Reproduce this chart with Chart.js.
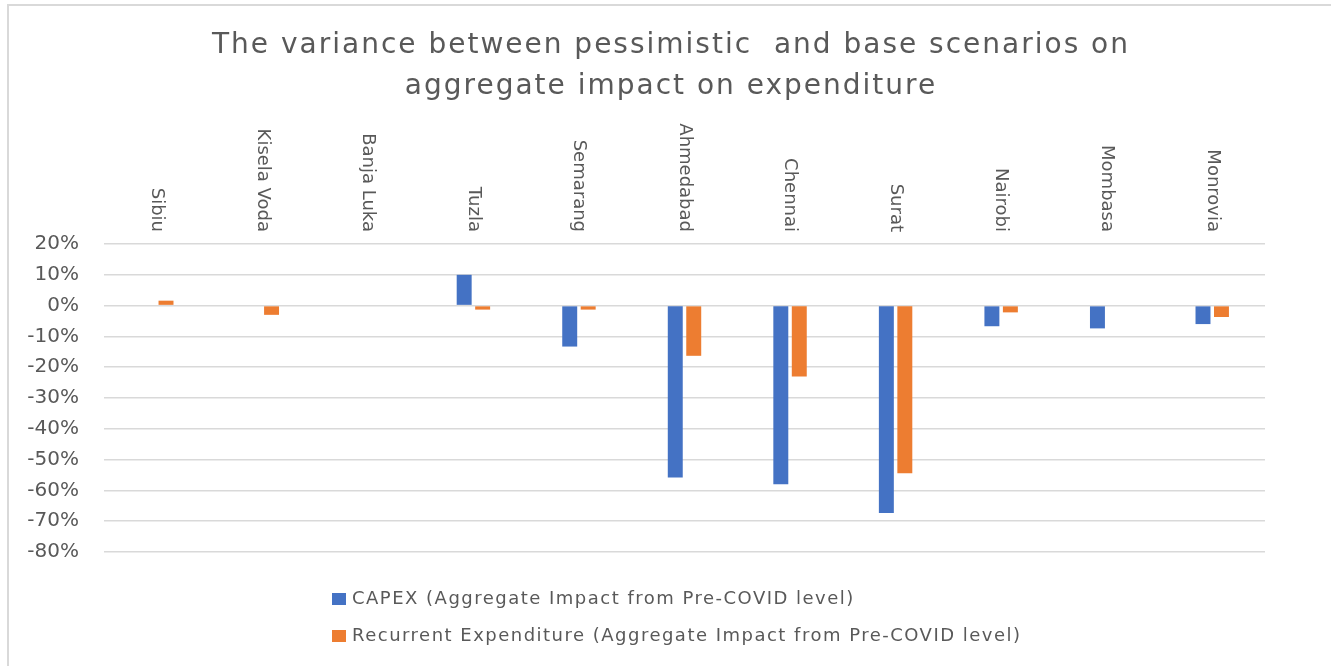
<!DOCTYPE html>
<html>
<head>
<meta charset="utf-8">
<script src="https://cdn.jsdelivr.net/npm/chart.js@4/dist/chart.umd.min.js"></script>
<style>
  html, body { margin: 0; padding: 0; background: #ffffff; }
  #wrap { position: relative; width: 1331px; height: 666px; }
</style>
</head>
<body>
<div id="wrap"><canvas id="c" width="1331" height="666"></canvas></div>
<script>
const titleLines = ['The variance between pessimistic  and base scenarios on', 'aggregate impact on expenditure'];
const categories = ['Sibiu', 'Kisela Voda', 'Banja Luka', 'Tuzla', 'Semarang', 'Ahmedabad', 'Chennai', 'Surat', 'Nairobi', 'Mombasa', 'Monrovia'];
const capexLabel = 'CAPEX (Aggregate Impact from Pre-COVID level)';
const recurrentLabel = 'Recurrent Expenditure (Aggregate Impact from Pre-COVID level)';
const capexValues = [0, 0, 0, 10, -13.3, -55.8, -58.0, -67.3, -6.7, -7.4, -6.0];
const recurrentValues = [1.6, -3.0, 0, -1.3, -1.3, -16.3, -23.0, -54.4, -2.2, 0, -3.7];
const yMin = -80, yMax = 20, yStep = 10;

const TEXT = '#595959';
const FONT = "'DejaVu Sans', 'Open Sans', sans-serif";

function fitSpacing(ctx, text, target) {
  ctx.letterSpacing = '0px';
  const w = ctx.measureText(text).width;
  const s = (target - w) / Math.max(1, text.length - 1);
  return Math.max(0, s);
}

const framePlugin = {
  id: 'frame',
  beforeDraw(chart) {
    const ctx = chart.ctx;
    ctx.save();
    ctx.strokeStyle = '#d9d9d9';
    ctx.lineWidth = 2;
    ctx.beginPath();
    ctx.moveTo(8, 666);
    ctx.lineTo(8, 5);
    ctx.lineTo(1331, 5);
    ctx.stroke();
    ctx.restore();
  }
};

const titlePlugin = {
  id: 'customTitle',
  afterDraw(chart) {
    const ctx = chart.ctx;
    ctx.save();
    ctx.fillStyle = TEXT;
    ctx.font = '28px ' + FONT;
    ctx.textAlign = 'left';
    ctx.textBaseline = 'middle';
    const sp = fitSpacing(ctx, titleLines[0], 916);
    ctx.letterSpacing = sp + 'px';
    const ys = [46, 87];
    const cx = 670;
    titleLines.forEach((line, i) => {
      const w = ctx.measureText(line).width - sp;
      ctx.fillText(line, cx - w / 2, ys[i]);
    });
    ctx.restore();
  }
};

const catLabelPlugin = {
  id: 'catLabels',
  afterDraw(chart) {
    const ctx = chart.ctx;
    const xs = chart.scales.x;
    ctx.save();
    ctx.fillStyle = TEXT;
    ctx.font = '18px ' + FONT;
    ctx.letterSpacing = '0px';
    ctx.textAlign = 'right';
    ctx.textBaseline = 'middle';
    chart.data.labels.forEach((lab, i) => {
      const x = xs.getPixelForValue(i);
      ctx.save();
      ctx.translate(x, 232);
      ctx.rotate(Math.PI / 2);
      ctx.fillText(lab, 0, 0);
      ctx.restore();
    });
    ctx.restore();
  }
};

const legendPlugin = {
  id: 'customLegend',
  afterDraw(chart) {
    const ctx = chart.ctx;
    ctx.save();
    ctx.font = '18px ' + FONT;
    ctx.textAlign = 'left';
    ctx.textBaseline = 'middle';
    const sp = fitSpacing(ctx, recurrentLabel, 668);
    ctx.letterSpacing = sp + 'px';
    const ys = [599, 636];
    chart.data.datasets.forEach((ds, i) => {
      const y = ys[i];
      ctx.fillStyle = ds.backgroundColor;
      ctx.fillRect(332, y - 6, 14, 12);
      ctx.fillStyle = TEXT;
      ctx.fillText(ds.label, 352, y);
    });
    ctx.restore();
  }
};

new Chart(document.getElementById('c'), {
  type: 'bar',
  data: {
    labels: categories,
    datasets: [
      { label: capexLabel, data: capexValues, backgroundColor: '#4472C4', categoryPercentage: 0.35, barPercentage: 0.81 },
      { label: recurrentLabel, data: recurrentValues, backgroundColor: '#ED7D31', categoryPercentage: 0.35, barPercentage: 0.81 }
    ]
  },
  options: {
    responsive: false,
    animation: false,
    layout: { padding: { left: 0, right: 66, top: 244, bottom: 114 } },
    plugins: {
      legend: { display: false },
      tooltip: { enabled: false },
      title: { display: false }
    },
    scales: {
      x: {
        display: false
      },
      y: {
        min: yMin,
        max: yMax,
        afterFit(scale) { scale.width = 104; },
        border: { display: false },
        grid: { color: '#d9d9d9', lineWidth: 1.5, drawTicks: false },
        ticks: {
          stepSize: yStep,
          padding: 25,
          color: TEXT,
          font: { family: FONT, size: 20 },
          callback: (v) => v + '%'
        }
      }
    }
  },
  plugins: [framePlugin, titlePlugin, catLabelPlugin, legendPlugin]
});
</script>
</body>
</html>
